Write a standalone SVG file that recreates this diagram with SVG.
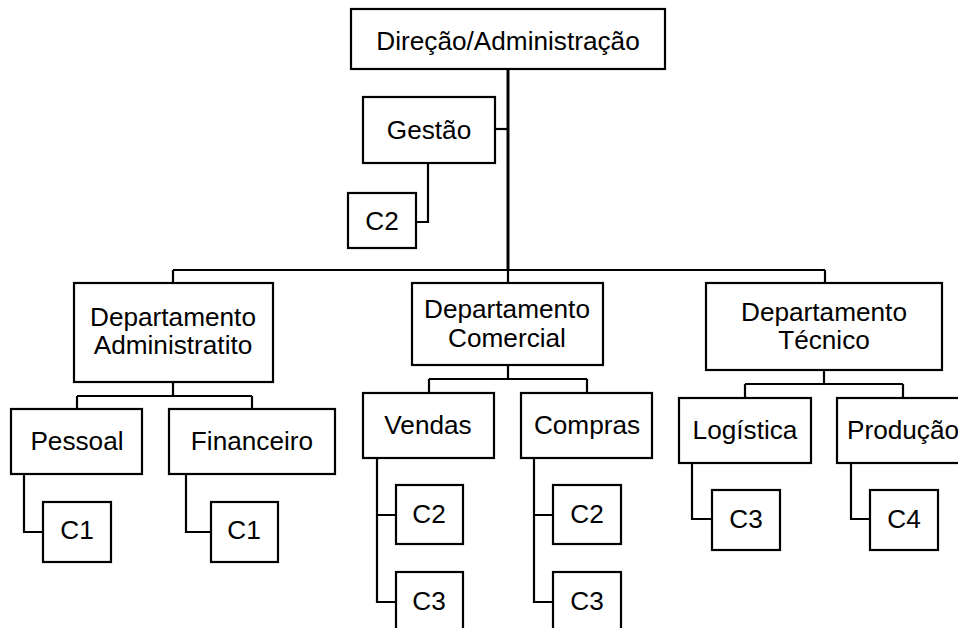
<svg xmlns="http://www.w3.org/2000/svg" width="958" height="628" viewBox="0 0 958 628">
<style>
.b{fill:#fff;stroke:#000;stroke-width:2.2}
.t{font-family:"Liberation Sans",Arial,sans-serif;font-size:26.2px;fill:#000;text-anchor:middle}
.c{fill:none;stroke:#000;stroke-width:2.2}
</style>
<rect width="958" height="628" fill="#fff"/>
<g id="connectors">
<path class="c" d="M508,69V270" style="stroke-width:3"/>
<path class="c" d="M495,129H508"/>
<path class="c" d="M428,163V222H416"/>
<path class="c" d="M173,270H825M173,270V283M508,270V283M825,270V283"/>
<path class="c" d="M173,382V396M77,396H252M77,396V409M252,396V409"/>
<path class="c" d="M24,474V532H43"/>
<path class="c" d="M186,474V532H211"/>
<path class="c" d="M508,365V379M429,379H587M429,379V393M587,379V393"/>
<path class="c" d="M377,458V602H396M377,515H396"/>
<path class="c" d="M534,458V602H553M534,515H553"/>
<path class="c" d="M824,370V384M745,384H903M745,384V398M903,384V398"/>
<path class="c" d="M692,463V519H712"/>
<path class="c" d="M851,463V519H870"/>
</g>
<g id="direcao"><rect class="b" x="351" y="9" width="314" height="60"/><text class="t" x="508" y="50">Direção/Administração</text></g>
<g id="gestao"><rect class="b" x="363" y="97" width="132" height="66"/><text class="t" x="429" y="139">Gestão</text></g>
<g id="gestao-c2"><rect class="b" x="348" y="193" width="68" height="55"/><text class="t" x="382" y="230">C2</text></g>
<g id="dep-adm"><rect class="b" x="74" y="283" width="199" height="99"/><text class="t" x="173" y="326">Departamento</text><text class="t" x="173" y="354">Administratito</text></g>
<g id="pessoal"><rect class="b" x="11" y="409" width="131" height="65"/><text class="t" x="77" y="450">Pessoal</text></g>
<g id="financeiro"><rect class="b" x="169" y="409" width="166" height="65"/><text class="t" x="252" y="450">Financeiro</text></g>
<g id="pessoal-c1"><rect class="b" x="43" y="502" width="68" height="60"/><text class="t" x="77" y="539">C1</text></g>
<g id="financeiro-c1"><rect class="b" x="211" y="502" width="67" height="60"/><text class="t" x="244" y="539">C1</text></g>
<g id="dep-com"><rect class="b" x="412" y="283" width="191" height="82"/><text class="t" x="507" y="318">Departamento</text><text class="t" x="507" y="347">Comercial</text></g>
<g id="vendas"><rect class="b" x="363" y="393" width="131" height="65"/><text class="t" x="428" y="434">Vendas</text></g>
<g id="compras"><rect class="b" x="521" y="393" width="131" height="65"/><text class="t" x="587" y="434">Compras</text></g>
<g id="vendas-c2"><rect class="b" x="396" y="485" width="67" height="59"/><text class="t" x="429" y="523">C2</text></g>
<g id="vendas-c3"><rect class="b" x="396" y="572" width="67" height="62"/><text class="t" x="429" y="610">C3</text></g>
<g id="compras-c2"><rect class="b" x="553" y="485" width="68" height="59"/><text class="t" x="587" y="523">C2</text></g>
<g id="compras-c3"><rect class="b" x="553" y="572" width="68" height="62"/><text class="t" x="587" y="610">C3</text></g>
<g id="dep-tec"><rect class="b" x="706" y="283" width="236" height="87"/><text class="t" x="824" y="321">Departamento</text><text class="t" x="824" y="349">Técnico</text></g>
<g id="logistica"><rect class="b" x="679" y="398" width="132" height="65"/><text class="t" x="745" y="439">Logística</text></g>
<g id="producao"><rect class="b" x="837" y="398" width="132" height="65"/><text class="t" x="903" y="439">Produção</text></g>
<g id="logistica-c3"><rect class="b" x="712" y="490" width="68" height="60"/><text class="t" x="746" y="528">C3</text></g>
<g id="producao-c4"><rect class="b" x="870" y="490" width="68" height="60"/><text class="t" x="904" y="528">C4</text></g>
</svg>
